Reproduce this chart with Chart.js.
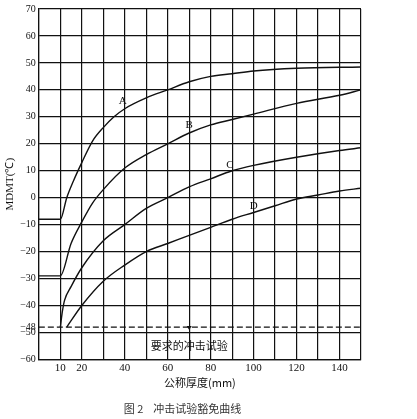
<!DOCTYPE html>
<html lang="zh">
<head>
  <meta charset="UTF-8" />
  <title>冲击试验豁免曲线</title>
  <script src="https://cdn.jsdelivr.net/npm/chart.js"></script>
  <style>
    body { margin: 0; background: #fff; }
    #wrap { width: 417px; height: 419px; }
  </style>
</head>
<body>
  <div id="wrap"><canvas id="c"></canvas></div>
  <script>
    // curve data
    const curveA = [[0,-8],[10,-8],[13,0],[16,6],[20,13],[25,21],[30,26],[35,30],[40,33],[50,37],[60,40],[70,43],[80,45],[90,46],[100,47],[120,48],[150,48.5]];
    const curveB = [[0,-29],[10,-29],[15,-17],[20,-9],[25,-2],[30,3],[40,11],[50,16],[60,20],[70,24],[80,27],[90,29],[100,31],[120,35],[140,38],[150,40]];
    const curveC = [[10,-48],[11,-42],[12,-38],[15,-33],[20,-26],[30,-16],[40,-10],[50,-4],[60,0],[70,4],[80,7],[90,10],[100,12],[120,15],[140,17.5],[150,18.5]];
    const curveD = [[13,-48],[20,-40],[30,-31],[40,-25],[50,-20],[60,-17],[70,-14],[80,-11],[90,-8],[100,-5.5],[110,-3],[120,-0.5],[130,1],[140,2.5],[150,3.5]];
    const exemptLine = [[0,-48],[150,-48]];
    const yTicks = [70,60,50,40,30,20,10,0,-10,-20,-30,-40,-48,-50,-60];
    const xLabels = [10,20,40,60,80,100,120,140];
    const curveLabels = [['A',39,36],['B',70,27],['C',89,12],['D',100,-3]];
    const testText = ['要求的冲击试验',70,-55];

    const toPts = arr => arr.map(p => ({x: p[0], y: p[1]}));
    const line = (data, extra) => Object.assign({
      data: toPts(data), borderColor: '#111', borderWidth: 1.4,
      pointRadius: 0, cubicInterpolationMode: 'monotone', fill: false
    }, extra);

    const textPlugin = {
      id: 'texts',
      afterDatasetsDraw(chart) {
        const {ctx, scales: {x, y}} = chart;
        ctx.save();
        ctx.fillStyle = '#111';
        ctx.textAlign = 'center';
        ctx.textBaseline = 'middle';
        ctx.font = '11px "Liberation Serif"';
        curveLabels.forEach(l => ctx.fillText(l[0], x.getPixelForValue(l[1]), y.getPixelForValue(l[2])));
        ctx.font = '11px "Noto Sans CJK SC"';
        ctx.fillText(testText[0], x.getPixelForValue(testText[1]), y.getPixelForValue(testText[2]));
        const px = x.getPixelForValue(70), py = y.getPixelForValue(-48);
        ctx.beginPath();
        ctx.moveTo(px - 2.5, py - 1); ctx.lineTo(px + 2.5, py - 1); ctx.lineTo(px, py + 3);
        ctx.fill();
        ctx.restore();
      }
    };

    new Chart(document.getElementById('c'), {
      type: 'line',
      data: {
        datasets: [
          line(curveA), line(curveB), line(curveC), line(curveD),
          line(exemptLine, {borderDash: [6, 3], cubicInterpolationMode: 'default', tension: 0, borderWidth: 1.2})
        ]
      },
      options: {
        responsive: true,
        maintainAspectRatio: false,
        animation: false,
        layout: { padding: { top: 6, right: 56, left: 4, bottom: 0 } },
        plugins: {
          legend: { display: false },
          tooltip: { enabled: false },
          title: {
            display: true, position: 'bottom', text: '图 2    冲击试验豁免曲线',
            color: '#333', font: { family: '"Noto Sans CJK SC"', size: 11, weight: 'normal' },
            padding: { top: 12, bottom: 4 }
          }
        },
        scales: {
          x: {
            type: 'linear', min: 0, max: 150,
            afterBuildTicks: ax => { ax.ticks = []; for (let v = 0; v <= 150; v += 10) ax.ticks.push({value: v}); },
            ticks: {
              autoSkip: false, maxRotation: 0, color: '#111', padding: 2,
              font: { family: '"Liberation Serif"', size: 11 },
              callback: v => xLabels.includes(v) ? String(v) : ''
            },
            grid: { color: '#111', lineWidth: 1.2, drawTicks: false },
            border: { color: '#111', width: 1.2 },
            title: { display: true, text: '公称厚度(mm)', color: '#111', padding: {top: 0, bottom: 0},
              font: { family: '"Noto Sans CJK SC"', size: 11 } }
          },
          y: {
            type: 'linear', min: -60, max: 70,
            afterBuildTicks: ax => { ax.ticks = yTicks.map(v => ({value: v})); },
            ticks: {
              autoSkip: false, color: '#111', padding: 3,
              font: { family: '"Liberation Serif"', size: 10 },
              callback: v => v < 0 ? '−' + Math.abs(v) : String(v)
            },
            grid: { color: c => c.tick && c.tick.value === -48 ? 'rgba(0,0,0,0)' : '#111', lineWidth: 1.2, drawTicks: false },
            border: { color: '#111', width: 1.2 },
            title: { display: true, text: 'MDMT(℃)', color: '#111', padding: 0,
              font: { family: '"Liberation Serif"', size: 11 } }
          }
        }
      },
      plugins: [textPlugin]
    });
  </script>
</body>
</html>
